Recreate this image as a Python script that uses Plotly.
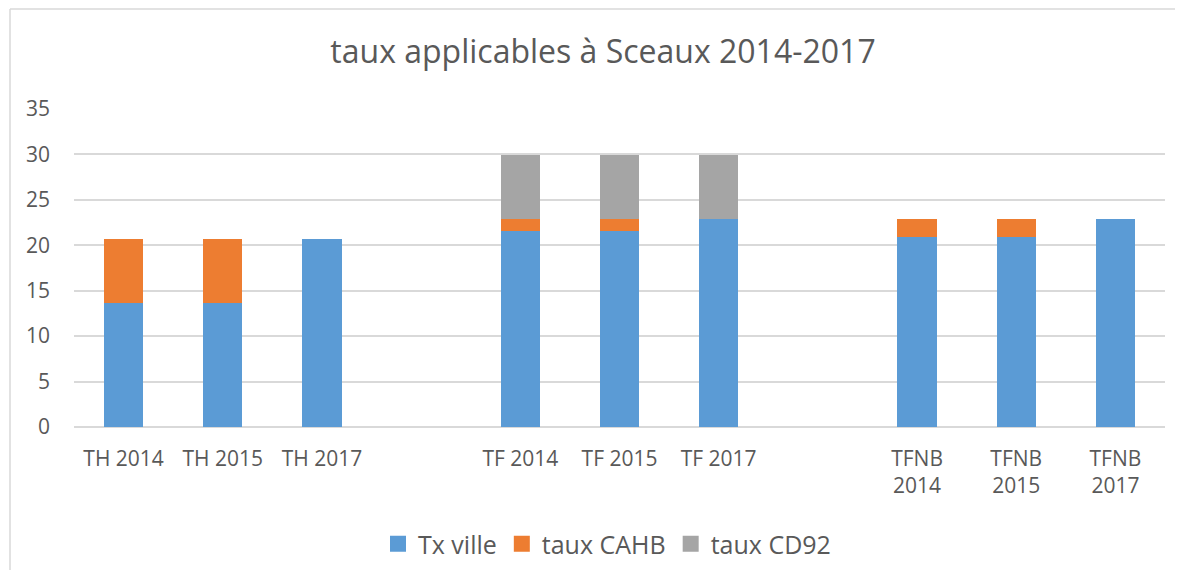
import plotly.graph_objects as go

categories = ["TH 2014", "TH 2015", "TH 2017", " ",
              "TF 2014", "TF 2015", "TF 2017", "  ",
              "TFNB<br>2014", "TFNB<br>2015", "TFNB<br>2017"]
tx_ville = [13.7, 13.7, 20.65, None, 21.6, 21.6, 22.9, None, 20.9, 20.9, 22.85]
taux_cahb = [6.95, 6.95, None, None, 1.3, 1.3, None, None, 1.95, 1.95, None]
taux_cd92 = [None, None, None, None, 7.08, 7.08, 7.08, None, None, None, None]

series_names = ["Tx ville", "taux CAHB", "taux CD92"]
series_values = [tx_ville, taux_cahb, taux_cd92]
colors = ["#5B9BD5", "#ED7D31", "#A5A5A5"]

FONT = "Open Sans"
TXT = "#595959"
GRID = "#D9D9D9"

# page body has an 8px margin: work in screen coords, shifted by OFF
OFF = 8
W, H = 1167, 562

def fx(x):
    return x - OFF

def fy(y):
    return y - OFF

L = fx(74)
T = fy(109)
R = W - fx(1165)
B = H - fy(427)
pw, ph = W - L - R, H - T - B

def px_x(x):
    return (fx(x) - L) / pw

def px_y(y):
    return (H - B - fy(y)) / ph

fig = go.Figure()
for name, vals, col in zip(series_names, series_values, colors):
    fig.add_trace(go.Bar(x=categories, y=vals, name=name, showlegend=False,
                         legendgroup=name,
                         marker=dict(color=col, line=dict(width=0))))
# legend entries with larger square swatches
for name, col in zip(series_names, colors):
    fig.add_trace(go.Scatter(x=[None], y=[None], name=name, mode="markers",
                             legendgroup=name,
                             marker=dict(symbol="square", size=16, color=col)))

fig.update_layout(
    width=W, height=H,
    barmode="stack", bargap=0.605,
    plot_bgcolor="white", paper_bgcolor="white",
    margin=dict(l=L, r=R, t=T, b=B, autoexpand=False),
    font=dict(family=FONT, color=TXT),
    title=dict(text="taux applicables à Sceaux 2014-2017",
               font=dict(family=FONT, size=32, color=TXT),
               x=fx(603) / W, xanchor="center",
               y=1 - fy(52) / H, yanchor="middle", yref="container"),
    legend=dict(orientation="h", x=px_x(607), xanchor="center",
                y=1 - fy(544) / H, yanchor="middle", yref="container",
                font=dict(family=FONT, size=25, color=TXT),
                itemwidth=30, tracegroupgap=0, traceorder="normal"),
    xaxis=dict(type="category", categoryorder="array", categoryarray=categories,
               showgrid=False, showline=False, ticks="", ticklabelstandoff=17,
               tickfont=dict(family=FONT, size=21, color=TXT)),
    yaxis=dict(range=[0, 35], dtick=5, showgrid=True, gridcolor=GRID, gridwidth=1.5,
               zeroline=True, zerolinecolor=GRID, zerolinewidth=1.5,
               showline=False, ticks="", ticklabelstandoff=23,
               tickfont=dict(family=FONT, size=21, color=TXT)),
    shapes=[
        dict(type="line", xref="paper", yref="paper",
             x0=px_x(10), x1=px_x(10), y0=px_y(9), y1=px_y(600),
             line=dict(color=GRID, width=1.5)),
        dict(type="line", xref="paper", yref="paper",
             x0=px_x(10), x1=px_x(1200), y0=px_y(9), y1=px_y(9),
             line=dict(color=GRID, width=1.5)),
    ],
)

fig.write_html("out.html")
